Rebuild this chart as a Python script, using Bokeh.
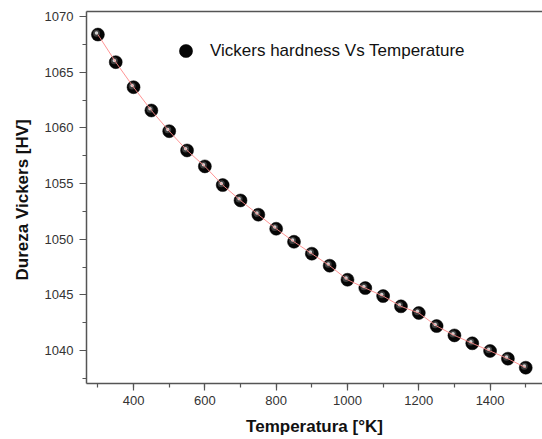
from bokeh.plotting import figure
from bokeh.models import (Range1d, SingleIntervalTicker, LinearAxis, FixedTicker,
                          Legend, LegendItem, ColumnDataSource)
from bokeh.transform import dodge
from bokeh.embed import file_html
from bokeh.resources import INLINE

# Data
temperature = [300, 350, 400, 450, 500, 550, 600, 650, 700, 750, 800, 850, 900,
               950, 1000, 1050, 1100, 1150, 1200, 1250, 1300, 1350, 1400, 1450, 1500]
hardness = [1068.38, 1065.90, 1063.65, 1061.56, 1059.70, 1057.97, 1056.54, 1054.86,
            1053.48, 1052.20, 1050.94, 1049.77, 1048.70, 1047.62, 1046.36, 1045.61,
            1044.89, 1043.97, 1043.37, 1042.20, 1041.36, 1040.65, 1039.96, 1039.27,
            1038.46]
series_label = "Vickers hardness Vs Temperature"
x_title = "Temperatura [°K]"
y_title = "Dureza Vickers  [HV]"

src = ColumnDataSource(dict(x=temperature, y=hardness))

FONT = "Liberation Sans"
AXC = "#555555"

p = figure(width=542, height=439, output_backend="svg", toolbar_location=None,
           x_range=Range1d(268, 1547), y_range=Range1d(1037.04, 1070.45),
           min_border_left=86, min_border_right=0, min_border_top=11, min_border_bottom=56)
p.outline_line_color = None
p.xgrid.visible = False
p.ygrid.visible = False
p.background_fill_color = "white"
p.border_fill_color = "white"

p.xaxis.ticker = SingleIntervalTicker(interval=200, num_minor_ticks=2)
p.yaxis.ticker = SingleIntervalTicker(interval=5, num_minor_ticks=2)

for ax in (p.xaxis[0], p.yaxis[0]):
    ax.axis_line_color = AXC
    ax.axis_line_width = 1.5
    ax.major_tick_line_color = AXC
    ax.minor_tick_line_color = AXC
    ax.major_tick_line_width = 1.2
    ax.minor_tick_line_width = 1.2
    ax.major_tick_in = 0
    ax.major_tick_out = 7
    ax.minor_tick_in = 0
    ax.minor_tick_out = 4
    ax.major_label_text_font = FONT
    ax.major_label_text_font_size = "13px"
    ax.major_label_text_color = "#333333"
    ax.axis_label_text_font = FONT
    ax.axis_label_text_font_size = "17px"
    ax.axis_label_text_font_style = "bold"
    ax.axis_label_text_color = "#111111"

p.xaxis.axis_label = x_title
p.yaxis.axis_label = y_title
p.xaxis.major_label_standoff = 5
p.xaxis.axis_label_standoff = 9
p.yaxis.major_label_standoff = 6
p.yaxis.axis_label_standoff = 10

top = LinearAxis(ticker=FixedTicker(ticks=[]), major_label_text_font_size="0px",
                 major_tick_out=0, minor_tick_out=0, major_tick_in=0, minor_tick_in=0,
                 axis_line_color=AXC, axis_line_width=1.5)
p.add_layout(top, "above")

base = p.scatter("x", "y", source=src, size=13, fill_color="#050505", line_color="#000000",
                 line_width=0.5)
p.scatter(dodge("x", -4, range=p.x_range), dodge("y", 0.12, range=p.y_range), source=src,
          size=7, fill_color="#3c3c3c", line_color=None)
p.scatter(dodge("x", -4, range=p.x_range), dodge("y", 0.15, range=p.y_range), source=src,
          size=3.5, fill_color="#e0e0e0", line_color=None, fill_alpha=0.9)
p.line("x", "y", source=src, line_color="#ff8a8a", line_width=1, line_alpha=0.9)

legend = Legend(items=[LegendItem(label=series_label, renderers=[base])],
                location=(83, 316), glyph_width=33, glyph_height=33, label_height=33,
                padding=0, margin=0, spacing=0, label_standoff=8,
                label_text_font=FONT, label_text_font_size="17px", label_text_color="#111111",
                background_fill_alpha=0, border_line_color=None)
p.add_layout(legend)

open("out.html", "w").write(file_html(p, INLINE))
